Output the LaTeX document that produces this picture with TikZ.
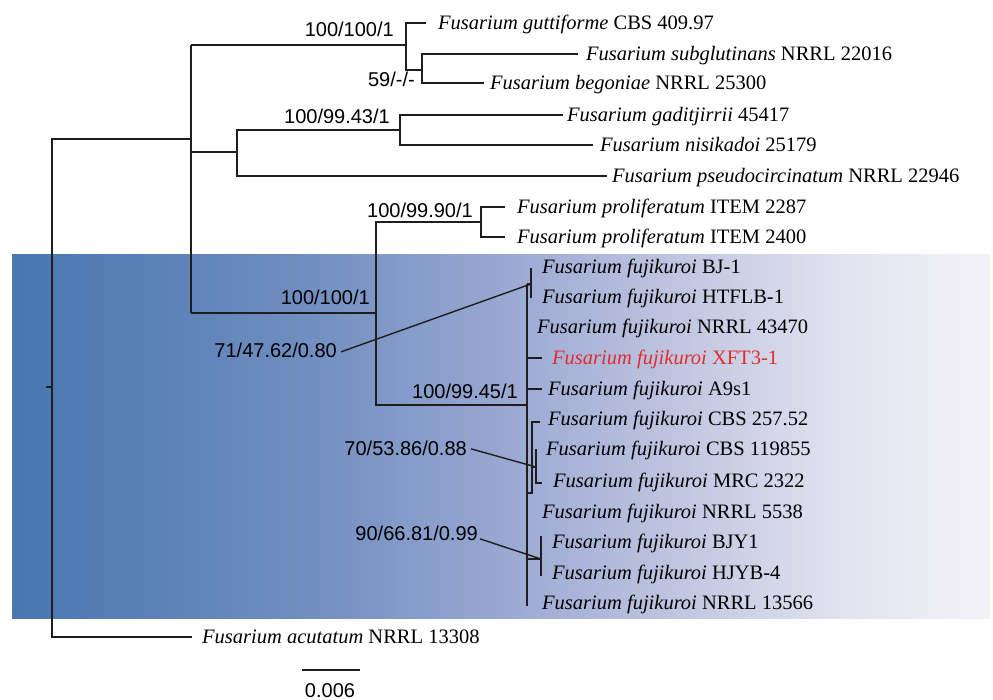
\documentclass[tikz,border=0pt]{standalone}
\usepackage{fontspec}
\setmainfont{Liberation Serif}
\setsansfont{Liberation Sans}
\pgfdeclarehorizontalshading{bgshade}{100bp}{rgb(0bp)=(0.282,0.463,0.686); rgb(25bp)=(0.282,0.463,0.686); rgb(40bp)=(0.439,0.557,0.753); rgb(50bp)=(0.600,0.655,0.824); rgb(60bp)=(0.769,0.788,0.886); rgb(67.5bp)=(0.886,0.890,0.937); rgb(75bp)=(0.953,0.949,0.969); rgb(100bp)=(0.953,0.949,0.969)}
\definecolor{linec}{RGB}{30,30,30}
\definecolor{hilite}{RGB}{225,45,45}
\tikzset{
  br/.style={draw=linec, line width=1.3pt},
  thk/.style={draw=linec, line width=2pt},
  ann/.style={draw=linec, line width=1.4pt},
  tx/.style={anchor=west, inner sep=0pt, text height=13.6pt, text depth=0pt, font=\fontsize{20.5}{24}\selectfont},
  sup/.style={anchor=base east, inner sep=0pt, font=\sffamily\fontsize{20}{24}\selectfont},
}
\begin{document}
\begin{tikzpicture}[x=1pt,y=-1pt]
\useasboundingbox (0,0) rectangle (993,700);
% background panel
\path[shading=bgshade] (12,255) rectangle (990,618);

% ---------- coordinates ----------
\coordinate (r0) at (46,387);
\coordinate (r) at (52,387);
\coordinate (Aj) at (191,139);
\coordinate (Atop) at (191,45);
\coordinate (Amid) at (191,152);
\coordinate (Abot) at (191,313);
\coordinate (gA) at (406,45);
\coordinate (gB) at (422,70);
\coordinate (B1) at (237,152);
\coordinate (B2) at (400,130);
\coordinate (C) at (376,313);
\coordinate (P) at (481,222);
\coordinate (F) at (527,405);
\coordinate (Ftop) at (527,284);
\coordinate (Fbot) at (527,606);
\coordinate (bj) at (531,284);
\coordinate (bjt) at (531,268);
\coordinate (bjb) at (531,298);
% line ends
\coordinate (e-gutt) at (426,23);
\coordinate (e-subg) at (578,54);
\coordinate (e-bego) at (484,83);
\coordinate (e-gad) at (563,115);
\coordinate (e-nis) at (593,145);
\coordinate (e-pse) at (607,176);
\coordinate (e-p1) at (505,207);
\coordinate (e-p2) at (505,237);
\coordinate (e-acu) at (192,637);

% ---------- tree ----------
\draw[br] (r0) -- (r);
\draw[br] (Aj) -| (r) |- (e-acu);
\draw[br] (Atop) -- (Abot);
\draw[br] (Atop) -- (gA);
\draw[br] (e-gutt) -| (gA) |- (gB);
\draw[br] (e-subg) -| (gB) |- (e-bego);
\draw[thk] (Amid) -- (B1);
\draw[br] (e-gad) -| (B2) |- (e-nis);
\draw[br] (B2) -| (B1) |- (e-pse);
\draw[br] (Abot) -- (C);
\draw[br] (e-p1) -| (P) |- (e-p2);
\draw[br] (P) -| (C) |- (F);
% fujikuroi clade
\draw[thk] (Ftop) -- (Fbot);
\draw[br] (Ftop) -- (bj);
\draw[br] (bjt) -- (bjb);
\coordinate (x1) at (527,358); \coordinate (x1e) at (542,358);
\coordinate (a1) at (527,389); \coordinate (a1e) at (542,389);
\draw[br] (x1) -- (x1e);
\draw[br] (a1) -- (a1e);
\coordinate (cb0) at (527,493); \coordinate (cb1) at (532,493);
\coordinate (cbt) at (532,422); \coordinate (cbte) at (540,422);
\coordinate (cc) at (532,467); \coordinate (cc1) at (536,467);
\coordinate (cct) at (536,449); \coordinate (ccb) at (536,483); \coordinate (ccbe) at (542,483);
\draw[br] (cb0) -- (cb1) -- (cbt) -- (cbte);
\draw[br] (cc) -- (cc1);
\draw[br] (cct) -- (ccb) -- (ccbe);
\coordinate (by0) at (527,559); \coordinate (by1) at (541,559);
\coordinate (byt) at (541,536); \coordinate (byb) at (541,576);
\draw[br] (by0) -- (by1);
\draw[thk] (byt) -- (byb);

% ---------- taxa ----------
\node[tx] (t-gutt) at (438,23) {\itshape Fusarium guttiforme \upshape CBS 409.97};
\node[tx] (t-subg) at (586,54) {\itshape Fusarium subglutinans \upshape NRRL 22016};
\node[tx] (t-bego) at (490,83) {\itshape Fusarium begoniae \upshape NRRL 25300};
\node[tx] (t-gad) at (567,115) {\itshape Fusarium gaditjirrii \upshape 45417};
\node[tx] (t-nis) at (600,145) {\itshape Fusarium nisikadoi \upshape 25179};
\node[tx] (t-pse) at (612,176) {\itshape Fusarium pseudocircinatum \upshape NRRL 22946};
\node[tx] (t-p1) at (517,207) {\itshape Fusarium proliferatum \upshape ITEM 2287};
\node[tx] (t-p2) at (517,237) {\itshape Fusarium proliferatum \upshape ITEM 2400};
\node[tx] (f1) at (542,267) {\itshape Fusarium fujikuroi \upshape BJ-1};
\node[tx] (f2) at (542,297) {\itshape Fusarium fujikuroi \upshape HTFLB-1};
\node[tx] (f3) at (537,327) {\itshape Fusarium fujikuroi \upshape NRRL 43470};
\node[tx, text=hilite] (f4) at (552,358) {\itshape Fusarium fujikuroi \upshape XFT3-1};
\node[tx] (f5) at (548,389) {\itshape Fusarium fujikuroi \upshape A9s1};
\node[tx] (f6) at (548,419) {\itshape Fusarium fujikuroi \upshape CBS 257.52};
\node[tx] (f7) at (546,449) {\itshape Fusarium fujikuroi \upshape CBS 119855};
\node[tx] (f8) at (553,481) {\itshape Fusarium fujikuroi \upshape MRC 2322};
\node[tx] (f9) at (542,512) {\itshape Fusarium fujikuroi \upshape NRRL 5538};
\node[tx] (f10) at (552,542) {\itshape Fusarium fujikuroi \upshape BJY1};
\node[tx] (f11) at (552,573) {\itshape Fusarium fujikuroi \upshape HJYB-4};
\node[tx] (f12) at (542,603) {\itshape Fusarium fujikuroi \upshape NRRL 13566};
\node[tx] (t-acu) at (202,637) {\itshape Fusarium acutatum \upshape NRRL 13308};

% ---------- support values ----------
\node[sup] (s1) at (394,37) {100/100/1};
\node[sup] (s2) at (415,87) {59/-/-};
\node[sup] (s3) at (390,124) {100/99.43/1};
\node[sup] (s4) at (473,218) {100/99.90/1};
\node[sup] (s5) at (370,305) {100/100/1};
\node[sup] (s6) at (337,358) {71/47.62/0.80};
\node[sup] (s7) at (518,399) {100/99.45/1};
\node[sup] (s8) at (467,455) {70/53.86/0.88};
\node[sup] (s9) at (478,540) {90/66.81/0.99};
\draw[ann] ([xshift=4pt,yshift=-1pt]s6.east) -- (bj);
\draw[ann] ([xshift=4pt,yshift=-1pt]s8.east) -- (cc1);
\draw[ann] ([xshift=2pt,yshift=-6pt]s9.east) -- (by1);

% ---------- scale bar ----------
\coordinate (sb0) at (302,670);
\coordinate (sb1) at (360,670);
\draw[br] (sb0) -- (sb1);
\node[anchor=base, inner sep=0pt, font=\sffamily\fontsize{20}{24}\selectfont] (sbl) at (330,697) {0.006};
\end{tikzpicture}
\end{document}
